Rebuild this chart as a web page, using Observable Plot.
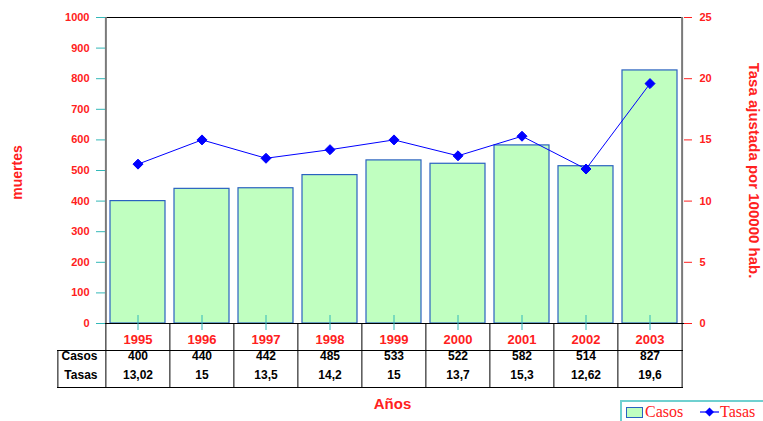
<!DOCTYPE html>
<html>
<head>
<meta charset="utf-8">
<script src="https://cdn.jsdelivr.net/npm/d3@7"></script>
<script src="https://cdn.jsdelivr.net/npm/@observablehq/plot@0.6"></script>
<style>
  html, body { margin: 0; padding: 0; background: #fff; }
  #wrap { position: relative; width: 763px; height: 421px; overflow: hidden; }
  #legend {
    position: absolute; left: 620px; top: 400px; width: 150px; height: 26px;
    border: 2px solid #6fd0d0; box-sizing: border-box; background: #fff;
    font-family: "Liberation Serif", "Times New Roman", serif; font-size: 16px; color: #ff2020;
  }
  #legend .item { position: absolute; top: 1px; line-height: 18px; display: flex; align-items: center; }
  #legend .sw { width: 15px; height: 9px; background: #c0ffc0; border: 1.5px solid #2a62c0; margin-right: 2px; }
</style>
</head>
<body>
<div id="wrap"></div>
<script>
// ---- data ----
const years = ["1995", "1996", "1997", "1998", "1999", "2000", "2001", "2002", "2003"];
const casos = [400, 440, 442, 485, 533, 522, 582, 514, 827];
const tasas = [13.02, 15, 13.5, 14.2, 15, 13.7, 15.3, 12.62, 19.6];
const tasaLabels = ["13,02", "15", "13,5", "14,2", "15", "13,7", "15,3", "12,62", "19,6"];
const leftTicks = [0, 100, 200, 300, 400, 500, 600, 700, 800, 900, 1000];
const rightTicks = [0, 5, 10, 15, 20, 25];
const rowLabels = ["Casos", "Tasas"];

const data = years.map((year, i) => ({year, casos: casos[i], tasa: tasas[i], tasaLabel: tasaLabels[i]}));

// layout
const W = 763, H = 421;
const mL = 105, mR = 80, mT = 17, mB = 98;
const plotW = W - mL - mR;
const plotH = H - mT - mB;
const step = plotW / years.length;
const K = 1000 / 25; // right-axis (tasa) to left-axis (muertes) ratio

const red = "#ff2020";
const teal = "#33b8b8";
const font = "'Liberation Sans', Arial, sans-serif";

const chart = Plot.plot({
  width: W, height: H,
  marginLeft: mL, marginRight: mR, marginTop: mT, marginBottom: mB,
  style: {fontFamily: font, background: "#fff"},
  x: {type: "band", domain: years, paddingInner: 0.14, paddingOuter: 0.07, axis: null},
  y: {domain: [0, 1000], axis: null},
  marks: [
    // bars
    Plot.barY(data, {x: "year", y: "casos", fill: "#c0ffc0", stroke: "#2a62c0", strokeWidth: 1.2}),
    // frame: top, left, right
    Plot.ruleY([1000], {stroke: "#000"}),
    Plot.ruleX([years[0]], {dx: -step / 2, stroke: "#7a7a7a", strokeWidth: 2}),
    Plot.ruleX([years[years.length - 1]], {dx: step / 2, stroke: "#7a7a7a", strokeWidth: 2}),
    // baseline / table top
    Plot.ruleY([0], {stroke: "#000", insetRight: -1}),
    // table vertical lines
    Plot.ruleX(years, {dx: -step / 2, stroke: "#000", insetTop: plotH, insetBottom: -64}),
    Plot.ruleX([years[years.length - 1]], {dx: step / 2, stroke: "#000", insetTop: plotH, insetBottom: -64}),
    Plot.ruleX([years[0]], {dx: -step / 2 - 48, stroke: "#000", insetTop: plotH + 27, insetBottom: -64}),
    // table horizontal lines
    Plot.ruleY([0], {dy: 27, stroke: "#000", insetLeft: -48}),
    Plot.ruleY([0], {dy: 64, stroke: "#000", insetLeft: -48}),
    // category ticks crossing baseline
    Plot.ruleX(years, {stroke: teal, insetTop: plotH - 8, insetBottom: -7}),
    // left axis
    Plot.axisY(leftTicks, {anchor: "left", tickSize: 9, tickPadding: 7, stroke: teal, color: red,
      tickFormat: d => String(d), fontWeight: "bold", fontSize: 11, label: null}),
    // right axis (tasa)
    Plot.axisY(rightTicks.map(d => d * K), {anchor: "right", tickFormat: d => String(d / K), tickSize: 8, tickPadding: 8,
      stroke: red, color: red, fontWeight: "bold", fontSize: 11, label: null}),
    // tasa line
    Plot.line(data, {x: "year", y: d => d.tasa * K, stroke: "#0000ff", strokeWidth: 1}),
    Plot.dot(data, {x: "year", y: d => d.tasa * K, symbol: "diamond2", r: 4.5, fill: "#0000ff", stroke: "#0000ff", strokeWidth: 1}),
    // table text
    Plot.text(data, {x: "year", text: "year", frameAnchor: "bottom", dy: 20, fill: red, fontWeight: "bold", fontSize: 13}),
    Plot.text(data, {x: "year", text: d => String(d.casos), frameAnchor: "bottom", dy: 36, fill: "#000", fontWeight: "bold", fontSize: 12}),
    Plot.text(data, {x: "year", text: "tasaLabel", frameAnchor: "bottom", dy: 55, fill: "#000", fontWeight: "bold", fontSize: 12}),
    Plot.text(rowLabels, {text: d => d, frameAnchor: "bottom-left", dx: -8, dy: 36, textAnchor: "end", fill: "#000", fontWeight: "bold", fontSize: 12, filter: d => d === "Casos"}),
    Plot.text(rowLabels, {text: d => d, frameAnchor: "bottom-left", dx: -8, dy: 55, textAnchor: "end", fill: "#000", fontWeight: "bold", fontSize: 12, filter: d => d === "Tasas"}),
    // titles
    Plot.text(["muertes"], {frameAnchor: "left", dx: -88, dy: 2, rotate: -90, textAnchor: "middle", fill: red, fontWeight: "bold", fontSize: 14}),
    Plot.text(["Tasa ajustada por 100000 hab."], {frameAnchor: "right", dx: 70, rotate: 90, textAnchor: "middle", fill: red, fontWeight: "bold", fontSize: 15}),
    Plot.text(["Años"], {frameAnchor: "bottom", dx: -2, dy: 85, fill: red, fontWeight: "bold", fontSize: 15})
  ]
});

const wrap = document.getElementById("wrap");
wrap.appendChild(chart);

// legend
const legend = document.createElement("div");
legend.id = "legend";
legend.innerHTML = `
  <div class="item" style="left:4px;"><span class="sw"></span>Casos</div>
  <div class="item" style="left:78px;">
    <svg width="20" height="12" style="margin-right:0px">
      <line x1="0" y1="6" x2="19" y2="6" stroke="#0000ff" stroke-width="1.2"/>
      <path d="M9.5,1.5 L14,6 L9.5,10.5 L5,6 Z" fill="#0000ff"/>
    </svg>Tasas</div>`;
wrap.appendChild(legend);
</script>
</body>
</html>
